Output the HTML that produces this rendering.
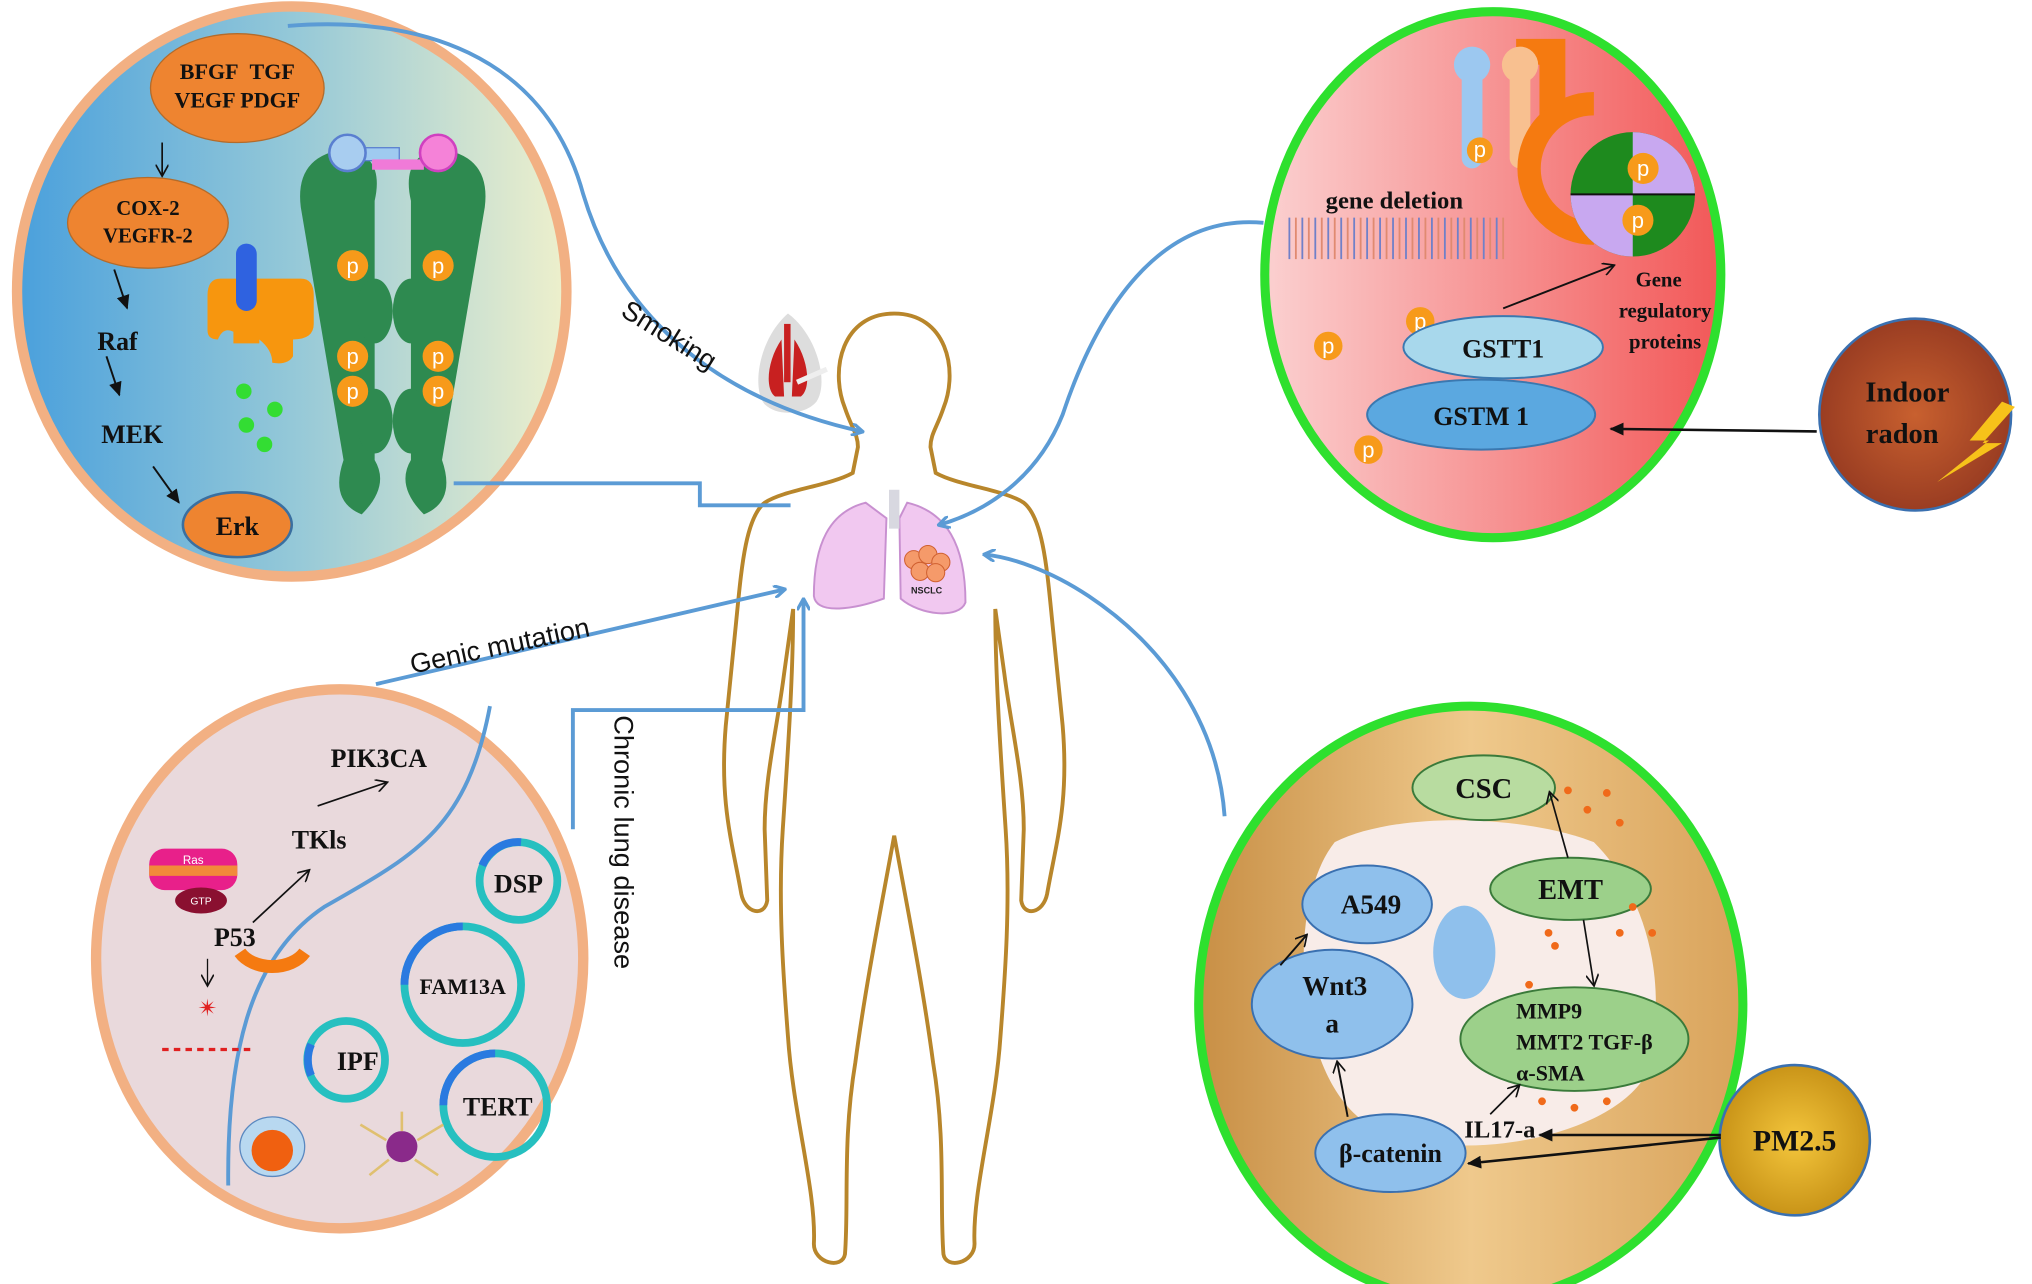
<!DOCTYPE html>
<html><head><meta charset="utf-8"><style>
html,body{margin:0;padding:0;background:#fff;overflow:hidden}
svg{display:block}
.b{font-family:"Liberation Serif",serif;font-weight:bold;fill:#111}
.s{font-family:"Liberation Sans",sans-serif;fill:#111}
.pt{font-family:"Liberation Sans",sans-serif;fill:#fff;font-size:17px}
</style></head><body>
<svg width="2032" height="1284" viewBox="0 0 1568 991" xmlns="http://www.w3.org/2000/svg">
<defs>
<linearGradient id="g1" x1="0" x2="1"><stop offset="0" stop-color="#4aa0dc"/><stop offset="0.5" stop-color="#94c8d8"/><stop offset="1" stop-color="#eef0cc"/></linearGradient>
<linearGradient id="g2" x1="0" x2="1"><stop offset="0" stop-color="#fbd0d0"/><stop offset="1" stop-color="#f25858"/></linearGradient>
<linearGradient id="g3" x1="0" x2="1"><stop offset="0" stop-color="#c88f45"/><stop offset="0.5" stop-color="#efc98c"/><stop offset="1" stop-color="#d9a35b"/></linearGradient>
<radialGradient id="g4"><stop offset="0" stop-color="#c8602f"/><stop offset="1" stop-color="#9a3d22"/></radialGradient>
<radialGradient id="g5"><stop offset="0" stop-color="#f4c63c"/><stop offset="1" stop-color="#c99418"/></radialGradient>
<marker id="ab" markerWidth="10" markerHeight="10" refX="8" refY="5" orient="auto" markerUnits="userSpaceOnUse"><path d="M0,0 L9,5 L0,10" fill="none" stroke="#5b9bd5" stroke-width="2.5"/></marker>
<marker id="ak" markerWidth="12" markerHeight="10" refX="10" refY="5" orient="auto" markerUnits="userSpaceOnUse"><path d="M0,0 L11,5 L0,10 z" fill="#111"/></marker>
<marker id="ao" markerWidth="10" markerHeight="10" refX="8" refY="5" orient="auto" markerUnits="userSpaceOnUse"><path d="M0,0 L9,5 L0,10" fill="none" stroke="#111" stroke-width="1.3"/></marker>
</defs>

<ellipse cx="225" cy="225" rx="212" ry="220" fill="url(#g1)" stroke="#f2b083" stroke-width="8"/>
<ellipse cx="183" cy="68" rx="67" ry="42" fill="#ee8430" stroke="#b46b2a"/>
<text class="b" x="183" y="61" font-size="17" text-anchor="middle">BFGF&#160;&#160;TGF</text>
<text class="b" x="183" y="83" font-size="17" text-anchor="middle">VEGF PDGF</text>
<ellipse cx="114" cy="172" rx="62" ry="35" fill="#ee8430" stroke="#b46b2a"/>
<text class="b" x="114" y="166" font-size="16" text-anchor="middle">COX-2</text>
<text class="b" x="114" y="187" font-size="16" text-anchor="middle">VEGFR-2</text>
<line x1="125" y1="110" x2="125" y2="135" stroke="#111" stroke-width="1.3" marker-end="url(#ao)"/>
<line x1="88" y1="208" x2="98" y2="238" stroke="#111" stroke-width="1.5" marker-end="url(#ak)"/>
<text class="b" x="75" y="270" font-size="20">Raf</text>
<line x1="82" y1="275" x2="92" y2="305" stroke="#111" stroke-width="1.5" marker-end="url(#ak)"/>
<text class="b" x="78" y="342" font-size="20">MEK</text>
<line x1="118" y1="360" x2="138" y2="388" stroke="#111" stroke-width="1.5" marker-end="url(#ak)"/>
<ellipse cx="183" cy="405" rx="42" ry="25" fill="#ee8430" stroke="#3a6fa0" stroke-width="2"/>
<text class="b" x="183" y="413" font-size="20" text-anchor="middle">Erk</text>
<path d="M170,215 Q160,215 160,228 V255 Q160,262 168,262 Q172,252 180,256 V265 H200 V262 Q210,270 210,280 Q222,282 226,275 V262 Q242,262 242,250 V228 Q242,215 232,215 z" fill="#f7960e"/>
<rect x="182" y="188" width="16" height="52" rx="8" fill="#2f62e0"/>
<g fill="#33dd33"><circle cx="188" cy="302" r="6"/><circle cx="212" cy="316" r="6"/><circle cx="190" cy="328" r="6"/><circle cx="204" cy="343" r="6"/></g>
<g fill="#2e8a50">
<path d="M232,160 q-5,-40 35,-45 q30,5 22,40 v200 q12,20 -10,42 q-25,-10 -14,-42 z"/>
<path d="M374,160 q5,-40 -35,-45 q-30,5 -22,40 v200 q-12,20 10,42 q25,-10 14,-42 z"/>
<ellipse cx="289" cy="240" rx="14" ry="25"/><ellipse cx="317" cy="240" rx="14" ry="25"/>
<ellipse cx="289" cy="325" rx="14" ry="25"/><ellipse cx="317" cy="325" rx="14" ry="25"/>
</g>
<rect x="270" y="114" width="38" height="10" fill="#9fcaf0" stroke="#5a7fd0"/>
<rect x="287" y="123" width="40" height="8" fill="#f07ad8"/>
<circle cx="268" cy="118" r="14" fill="#a8cdf0" stroke="#5a7fd0" stroke-width="2"/>
<circle cx="338" cy="118" r="14" fill="#f582d8" stroke="#d040c0" stroke-width="2"/>
<g fill="#f79a1a"><circle cx="272" cy="205" r="12"/><circle cx="338" cy="205" r="12"/><circle cx="272" cy="275" r="12"/><circle cx="338" cy="275" r="12"/><circle cx="272" cy="302" r="12"/><circle cx="338" cy="302" r="12"/></g>
<g class="pt" text-anchor="middle"><text x="272" y="211">p</text><text x="338" y="211">p</text><text x="272" y="281">p</text><text x="338" y="281">p</text><text x="272" y="308">p</text><text x="338" y="308">p</text></g>

<ellipse cx="1152" cy="212" rx="176" ry="203" fill="url(#g2)" stroke="#2ee02e" stroke-width="7"/>
<g stroke-width="1.4">
<path stroke="#7080c8" d="M995,168 V200 M1005,168 V200 M1015,168 V200 M1025,168 V200 M1035,168 V200 M1045,168 V200 M1055,168 V200 M1065,168 V200 M1075,168 V200 M1085,168 V200 M1095,168 V200 M1105,168 V200 M1115,168 V200 M1125,168 V200 M1135,168 V200 M1145,168 V200 M1155,168 V200"/>
<path stroke="#e08a70" d="M1000,168 V200 M1010,168 V200 M1020,168 V200 M1030,168 V200 M1040,168 V200 M1050,168 V200 M1060,168 V200 M1070,168 V200 M1080,168 V200 M1090,168 V200 M1100,168 V200 M1110,168 V200 M1120,168 V200 M1130,168 V200 M1140,168 V200 M1150,168 V200 M1160,168 V200"/>
</g>
<path d="M1170,30 h38 v60 h-20 v-40 h-18 z" fill="#f57a10"/>
<rect x="1128" y="50" width="16" height="80" rx="8" fill="#9cc8f0"/>
<rect x="1165" y="50" width="16" height="80" rx="8" fill="#f8c090"/>
<circle cx="1136" cy="50" r="14" fill="#9cc8f0"/><circle cx="1173" cy="50" r="14" fill="#f8c090"/>
<path d="M1230,80 a48,48 0 1 0 0,100" fill="none" stroke="#f57a10" stroke-width="18"/>
<circle cx="1260" cy="150" r="48" fill="#1e8a1e"/>
<path d="M1260,150 V102 A48,48 0 0 1 1308,150 z" fill="#c8a8f0"/>
<path d="M1260,150 H1212 A48,48 0 0 0 1260,198 z" fill="#c8a8f0"/>
<line x1="1212" y1="150" x2="1308" y2="150" stroke="#111" stroke-width="1.5"/>
<g fill="#f79a1a"><circle cx="1142" cy="116" r="10"/><circle cx="1268" cy="130" r="12"/><circle cx="1264" cy="170" r="12"/><circle cx="1096" cy="248" r="11"/><circle cx="1025" cy="267" r="11"/><circle cx="1056" cy="347" r="11"/></g>
<g class="pt" text-anchor="middle" font-size="15"><text x="1142" y="121">p</text><text x="1268" y="136">p</text><text x="1264" y="176">p</text><text x="1096" y="254">p</text><text x="1025" y="273">p</text><text x="1056" y="353">p</text></g>
<text class="b" x="1023" y="161" font-size="19">gene deletion</text>
<line x1="1160" y1="238" x2="1245" y2="205" stroke="#111" stroke-width="1.5" marker-end="url(#ao)"/>
<text class="b" x="1280" y="221" font-size="16" text-anchor="middle">Gene</text>
<text class="b" x="1285" y="245" font-size="16" text-anchor="middle">regulatory</text>
<text class="b" x="1285" y="269" font-size="16" text-anchor="middle">proteins</text>
<ellipse cx="1160" cy="268" rx="77" ry="24" fill="#a8d8ec" stroke="#3a78b0" stroke-width="1.5"/>
<text class="b" x="1160" y="276" font-size="20" text-anchor="middle">GSTT1</text>
<ellipse cx="1143" cy="320" rx="88" ry="27" fill="#5ba8e0" stroke="#3a78b0" stroke-width="1.5"/>
<text class="b" x="1143" y="328" font-size="20" text-anchor="middle">GSTM 1</text>
<circle cx="1478" cy="320" r="74" fill="url(#g4)" stroke="#3a70b0" stroke-width="2"/>
<text class="b" x="1472" y="310" font-size="22" text-anchor="middle">Indoor</text>
<text class="b" x="1468" y="342" font-size="22" text-anchor="middle">radon</text>
<path d="M1545,310 l-25,30 h15 l-40,32 l50,-30 h-15 l25,-28 z" fill="#f7c21a"/>
<line x1="1402" y1="333" x2="1243" y2="331" stroke="#111" stroke-width="2" marker-end="url(#ak)"/>

<ellipse cx="262" cy="740" rx="188" ry="208" fill="#e9d9dc" stroke="#f2b083" stroke-width="8"/>
<path d="M378,545 C360,640 320,660 250,700 C190,740 175,820 176,915" fill="none" stroke="#5b9bd5" stroke-width="3"/>
<text class="b" x="255" y="592" font-size="20">PIK3CA</text>
<line x1="245" y1="622" x2="298" y2="604" stroke="#111" stroke-width="1.3" marker-end="url(#ao)"/>
<text class="b" x="225" y="655" font-size="20">TKls</text>
<line x1="195" y1="712" x2="238" y2="672" stroke="#111" stroke-width="1.3" marker-end="url(#ao)"/>
<rect x="115" y="655" width="68" height="32" rx="12" fill="#e8208a"/>
<rect x="115" y="668" width="68" height="8" fill="#f28a3a"/>
<text x="149" y="667" font-size="9" fill="#fff" text-anchor="middle" font-family="Liberation Sans">Ras</text>
<ellipse cx="155" cy="695" rx="20" ry="10" fill="#8a1030"/>
<text x="155" y="698" font-size="8" fill="#fff" text-anchor="middle" font-family="Liberation Sans">GTP</text>
<text class="b" x="165" y="730" font-size="20">P53</text>
<path d="M185,735 a28,20 0 0 0 50,0" fill="none" stroke="#f57a10" stroke-width="10"/>
<line x1="160" y1="740" x2="160" y2="760" stroke="#111" stroke-width="1" marker-end="url(#ao)"/>
<text x="160" y="784" font-size="18" fill="#e02020" text-anchor="middle">✴</text>
<line x1="125" y1="810" x2="195" y2="810" stroke="#e02020" stroke-width="2.5" stroke-dasharray="5,4"/>
<g fill="none" stroke-width="6">
<circle cx="400" cy="680" r="30" stroke="#26c0c0"/><path d="M372,668 a30,30 0 0 1 30,-18" stroke="#2a7ae0"/>
<circle cx="357" cy="760" r="45" stroke="#26c0c0"/><path d="M312,760 a45,45 0 0 1 45,-45" stroke="#2a7ae0"/>
<circle cx="267" cy="818" r="30" stroke="#26c0c0"/><path d="M240,830 a30,30 0 0 1 0,-24" stroke="#2a7ae0"/>
<circle cx="382" cy="853" r="40" stroke="#26c0c0"/><path d="M342,853 a40,40 0 0 1 40,-40" stroke="#2a7ae0"/>
</g>
<text class="b" x="400" y="689" font-size="20" text-anchor="middle">DSP</text>
<text class="b" x="357" y="767" font-size="17" text-anchor="middle">FAM13A</text>
<text class="b" x="276" y="826" font-size="20" text-anchor="middle">IPF</text>
<text class="b" x="384" y="861" font-size="20" text-anchor="middle">TERT</text>
<ellipse cx="210" cy="885" rx="25" ry="23" fill="#b8d8f0" stroke="#5a88c0"/>
<circle cx="210" cy="888" r="16" fill="#f06010"/>
<circle cx="310" cy="885" r="12" fill="#8a2a8a"/>
<path d="M298,880 l-20,-12 M322,880 l20,-12 M300,895 l-15,12 M320,895 l18,12 M310,873 v-15" stroke="#e0c070" stroke-width="2"/>

<ellipse cx="1135" cy="775" rx="210" ry="230" fill="url(#g3)" stroke="#2ee02e" stroke-width="7"/>
<path d="M1030,650 C1080,625 1180,630 1230,650 C1270,690 1290,760 1270,830 C1240,880 1120,900 1060,870 C1000,840 990,700 1030,650 z" fill="#f8ece8"/>
<ellipse cx="1130" cy="735" rx="24" ry="36" fill="#8fc0ec"/>
<ellipse cx="1145" cy="608" rx="55" ry="25" fill="#b8dca0" stroke="#3a7a3a" stroke-width="1.5"/>
<text class="b" x="1145" y="616" font-size="22" text-anchor="middle">CSC</text>
<ellipse cx="1212" cy="686" rx="62" ry="24" fill="#9cd08a" stroke="#3a7a3a" stroke-width="1.5"/>
<text class="b" x="1212" y="694" font-size="22" text-anchor="middle">EMT</text>
<ellipse cx="1215" cy="802" rx="88" ry="40" fill="#9cd08a" stroke="#3a7a3a" stroke-width="1.5"/>
<text class="b" x="1170" y="786" font-size="17">MMP9</text>
<text class="b" x="1170" y="810" font-size="17">MMT2 TGF-β</text>
<text class="b" x="1170" y="834" font-size="17">α-SMA</text>
<line x1="1210" y1="662" x2="1196" y2="612" stroke="#111" stroke-width="1.3" marker-end="url(#ao)"/>
<line x1="1222" y1="710" x2="1230" y2="760" stroke="#111" stroke-width="1.3" marker-end="url(#ao)"/>
<g fill="#f06a1a"><circle cx="1210" cy="610" r="3"/><circle cx="1225" cy="625" r="3"/><circle cx="1240" cy="612" r="3"/><circle cx="1250" cy="635" r="3"/><circle cx="1260" cy="700" r="3"/><circle cx="1275" cy="720" r="3"/><circle cx="1250" cy="720" r="3"/><circle cx="1195" cy="720" r="3"/><circle cx="1200" cy="730" r="3"/><circle cx="1180" cy="760" r="3"/><circle cx="1190" cy="850" r="3"/><circle cx="1215" cy="855" r="3"/><circle cx="1240" cy="850" r="3"/></g>
<ellipse cx="1055" cy="698" rx="50" ry="30" fill="#8fc0ec" stroke="#3a70b0" stroke-width="1.5"/>
<text class="b" x="1058" y="705" font-size="21" text-anchor="middle">A549</text>
<ellipse cx="1028" cy="775" rx="62" ry="42" fill="#8fc0ec" stroke="#3a70b0" stroke-width="1.5"/>
<text class="b" x="1030" y="768" font-size="21" text-anchor="middle">Wnt3</text>
<text class="b" x="1028" y="797" font-size="21" text-anchor="middle">a</text>
<ellipse cx="1073" cy="890" rx="58" ry="30" fill="#8fc0ec" stroke="#3a70b0" stroke-width="1.5"/>
<text class="b" x="1073" y="897" font-size="20" text-anchor="middle">β-catenin</text>
<text class="b" x="1130" y="878" font-size="19">IL17-a</text>
<line x1="988" y1="745" x2="1008" y2="722" stroke="#111" stroke-width="1.5" marker-end="url(#ao)"/>
<line x1="1040" y1="862" x2="1032" y2="820" stroke="#111" stroke-width="1.5" marker-end="url(#ao)"/>
<line x1="1150" y1="860" x2="1172" y2="838" stroke="#111" stroke-width="1.3" marker-end="url(#ao)"/>
<circle cx="1385" cy="880" r="58" fill="url(#g5)" stroke="#3a70b0" stroke-width="2"/>
<text class="b" x="1385" y="888" font-size="23" text-anchor="middle">PM2.5</text>
<line x1="1328" y1="876" x2="1188" y2="876" stroke="#111" stroke-width="2" marker-end="url(#ak)"/>
<line x1="1328" y1="878" x2="1133" y2="898" stroke="#111" stroke-width="2" marker-end="url(#ak)"/>

<path d="M690,242 C650,242 640,285 652,315 C657,330 662,335 662,345 L658,365 C640,375 605,378 590,388 C575,400 572,440 568,480 L560,560 C555,620 565,650 572,690 C575,705 590,708 592,695 L590,640 C590,600 600,560 605,520 L612,470 C612,520 608,580 604,640 C600,700 605,760 608,800 C612,860 630,920 628,960 C628,975 650,980 652,968 C655,930 650,880 660,820 C668,760 680,700 690,645 C700,700 712,760 720,820 C730,880 725,930 728,968 C730,980 752,975 752,960 C750,920 768,860 772,800 C775,760 780,700 776,640 C772,580 768,520 768,470 L775,520 C780,560 790,600 790,640 L788,695 C790,708 805,705 808,690 C815,650 825,620 820,560 L812,480 C808,440 805,400 790,388 C775,378 740,375 722,365 L718,345 C718,335 723,330 728,315 C740,285 730,242 690,242 z" fill="#fff" stroke="#b8862b" stroke-width="3"/>
<path d="M668,388 C640,395 628,420 628,460 C630,475 660,470 682,462 L684,400 z" fill="#f1c8f0" stroke="#c890d0" stroke-width="1.5"/>
<path d="M700,388 C730,395 745,420 745,465 C740,478 710,475 695,462 L694,400 z" fill="#f1c8f0" stroke="#c890d0" stroke-width="1.5"/>
<rect x="686" y="378" width="8" height="30" fill="#d8d8e0"/>
<g fill="#f59a6a" stroke="#d06030" stroke-width="0.8"><circle cx="705" cy="432" r="7"/><circle cx="716" cy="428" r="7"/><circle cx="726" cy="434" r="7"/><circle cx="710" cy="441" r="7"/><circle cx="722" cy="442" r="7"/></g>
<text x="715" y="458" font-size="7" font-family="Liberation Sans" font-weight="bold" text-anchor="middle" fill="#222">NSCLC</text>
<path d="M608,242 C585,262 580,300 590,312 C600,322 622,320 630,310 C640,295 630,258 608,242 z" fill="#ddd"/>
<path d="M603,262 C592,278 590,300 598,306 L605,306 z M613,262 C624,278 626,300 618,306 L611,306 z" fill="#c82020"/>
<rect x="605" y="250" width="5" height="45" fill="#c82020"/>
<line x1="615" y1="295" x2="638" y2="285" stroke="#eee" stroke-width="4"/>

<g fill="none" stroke="#5b9bd5" stroke-width="3">
<path d="M222,20 C320,12 420,40 450,150 C480,250 560,310 665,333" marker-end="url(#ab)"/>
<path d="M350,373 H540 V390 H610"/>
<path d="M975,172 C900,165 850,230 820,320 C800,370 760,395 725,405" marker-end="url(#ab)"/>
<path d="M290,528 L605,455" marker-end="url(#ab)"/>
<path d="M442,640 V548 H620 V463" marker-end="url(#ab)"/>
<path d="M945,630 C940,560 900,500 840,460 C810,440 780,430 760,428" marker-end="url(#ab)"/>
</g>
<text class="s" x="478" y="243" font-size="21" transform="rotate(32 478 243)">Smoking</text>
<text class="s" x="318" y="520" font-size="21" transform="rotate(-12 318 520)">Genic mutation</text>
<text class="s" x="474" y="552" font-size="21" transform="rotate(90 474 552)">Chronic lung disease</text>
</svg>
</body></html>
